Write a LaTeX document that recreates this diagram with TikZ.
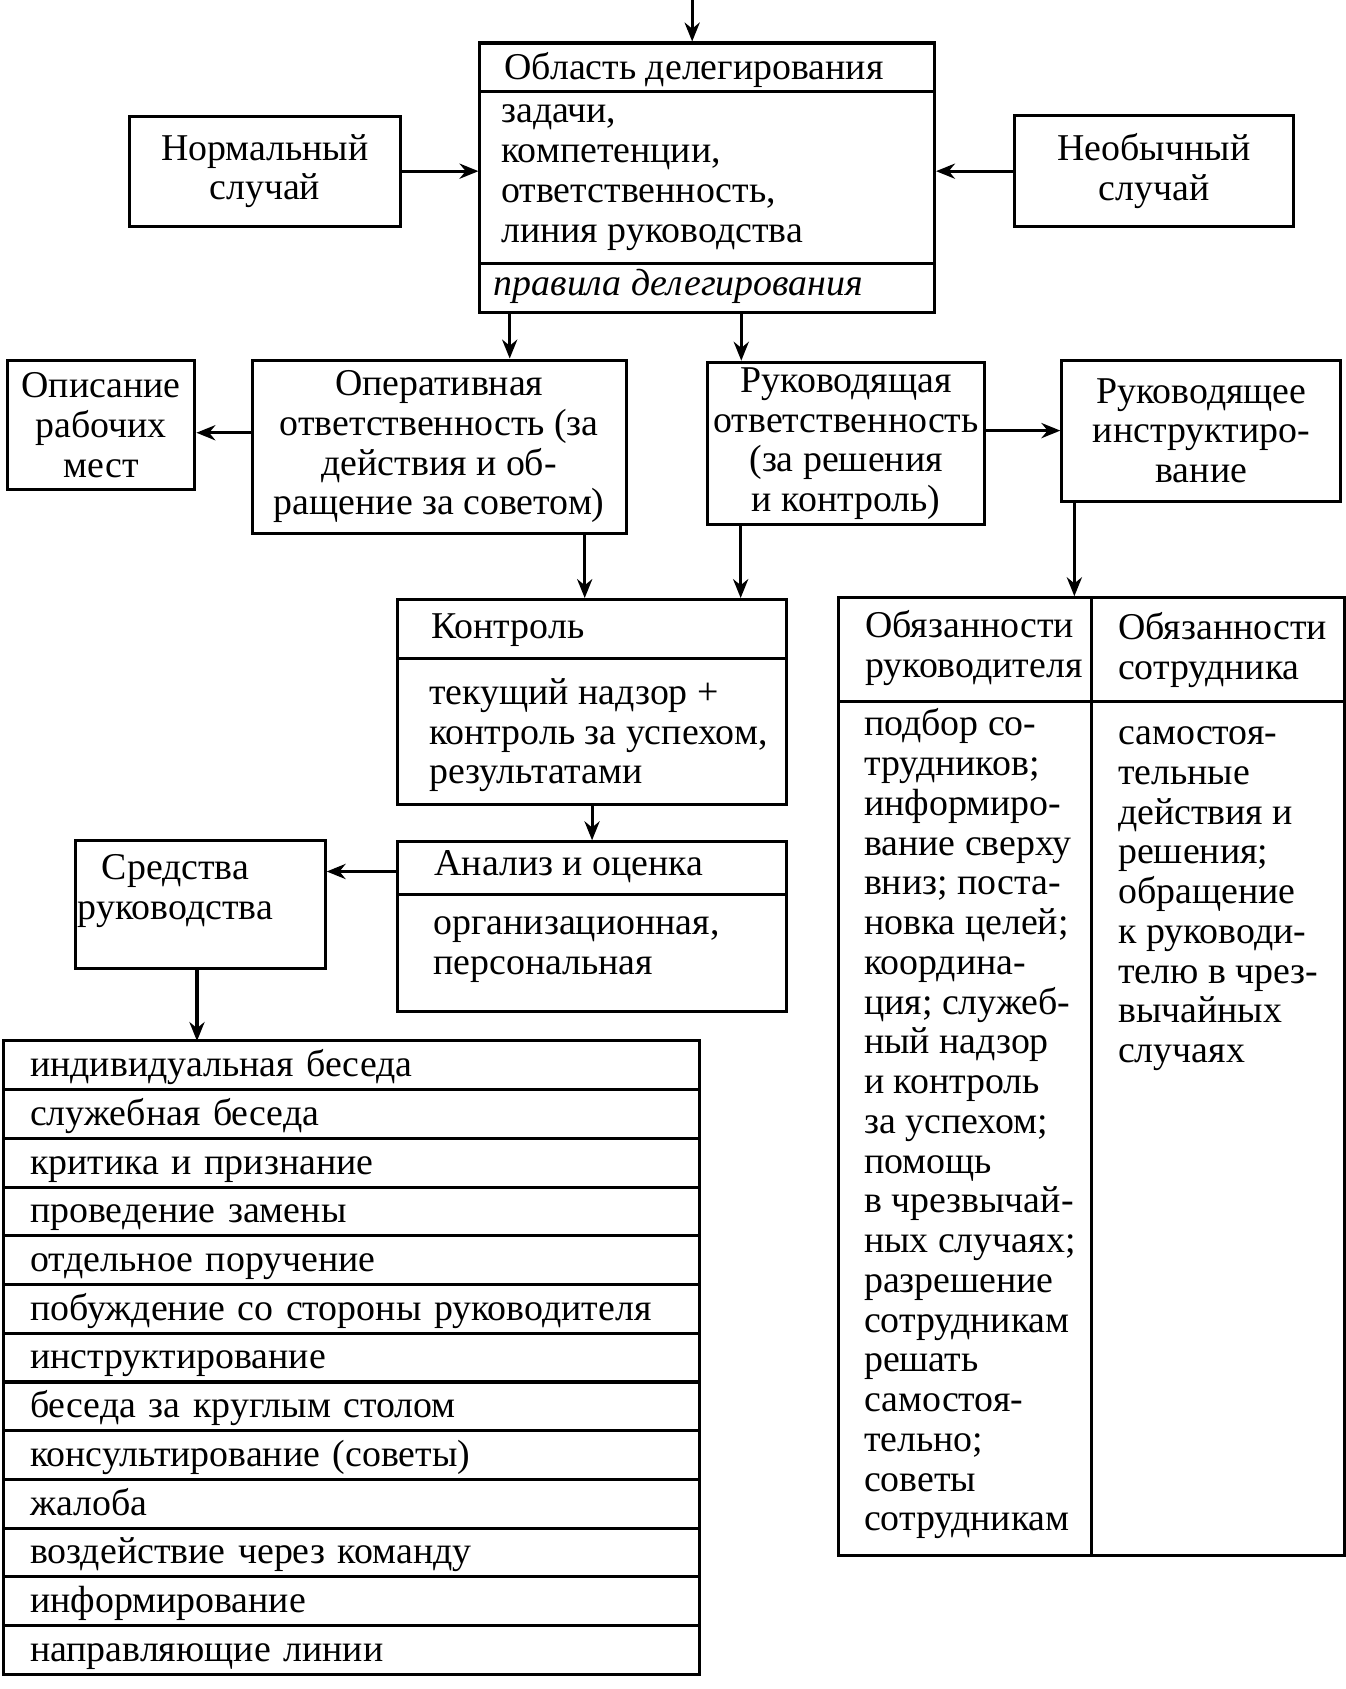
\documentclass[tikz,border=0pt]{standalone}
\usepackage{fontspec}
\setmainfont{Liberation Serif}
\usetikzlibrary{arrows.meta,positioning,calc}

\tikzset{
  box/.style={draw, line width=0.8pt, inner sep=0pt, align=center},
  arr/.style={-{Stealth[length=5pt,width=4pt]}, line width=0.8pt},
  lbl/.style={inner sep=0pt, align=left, anchor=west},
  listrow/.style={draw, line width=0.8pt, text width=5.96cm, inner xsep=0.25cm,
    inner ysep=0pt, outer sep=0pt, text height=7pt, text depth=1pt,
    minimum height=0.4523cm, align=left}
}

\begin{document}
\begin{tikzpicture}[x=0.01cm, y=-0.01cm, font=\fontsize{10}{10.5}\selectfont]

\useasboundingbox (0,0) rectangle (1250,1569);

% delegation area
\node[box, minimum width=4.22cm, minimum height=2.5cm] (oblast) at (657,165) {};
\draw[line width=0.8pt] ([yshift=-0.46cm]oblast.north west) -- ([yshift=-0.46cm]oblast.north east);
\draw[line width=0.8pt] ([yshift=0.47cm]oblast.south west) -- ([yshift=0.47cm]oblast.south east);
\node[lbl] (oblastT) at (468,65) {Область делегирования};
\node[lbl] (oblastC) at (465,165) {задачи,\\компетенции,\\ответственность,\\линия руководства};
\node[lbl] (oblastR) at (458,266) {\itshape правила делегирования};

\node[box, minimum width=2.52cm, minimum height=1.02cm] (norm) at (246,159) {Нормальный\\случай};
\node[box, minimum width=2.59cm, minimum height=1.03cm] (neob) at (1072,159) {Необычный\\случай};

% responsibilities
\node[box, minimum width=1.74cm, minimum height=1.2cm] (opis) at (94,395) {Описание\\рабочих\\мест};
\node[box, minimum width=3.47cm, minimum height=1.61cm] (oper) at (408,415) {Оперативная\\ответственность (за\\действия и об-\\ращение за советом)};
\node[box, minimum width=2.57cm, minimum height=1.51cm] (ruk) at (786,412) {Руководящая\\ответственность\\(за решения\\и контроль)};
\node[box, minimum width=2.59cm, minimum height=1.31cm] (instr) at (1116,400) {Руководящее\\инструктиро-\\вание};

% control
\node[box, minimum width=3.61cm, minimum height=1.9cm] (kontr) at (550,652) {};
\draw[line width=0.8pt] ([yshift=-0.56cm]kontr.north west) -- ([yshift=-0.56cm]kontr.north east);
\node[lbl] (kontrT) at (400,585) {Контроль};
\node[lbl] (kontrC) at (398,683) {текущий надзор +\\контроль за успехом,\\результатами};

\node[box, minimum width=3.61cm, minimum height=1.58cm] (anal) at (550,861) {};
\draw[line width=0.8pt] ([yshift=-0.5cm]anal.north west) -- ([yshift=-0.5cm]anal.north east);
\node[lbl] (analT) at (403,805) {Анализ и оценка};
\node[lbl] (analC) at (402,882) {организационная,\\персональная};

\node[box, minimum width=2.32cm, minimum height=1.19cm] (sred) at (186,840) {};
\node[inner sep=0pt, align=center] (sredT) at (163,828) {Средства\\руководства};

% means of management
\node[listrow, anchor=north west] (l1) at (3,967) {индивидуальная беседа};
\foreach \txt [count=\i from 2, remember=\i as \j (initially 1)] in
  {служебная беседа, критика и признание, проведение замены, отдельное поручение,
   побуждение со стороны руководителя, инструктирование, беседа за круглым столом,
   консультирование (советы), жалоба, воздействие через команду, информирование,
   направляющие линии}
  \node[listrow, below=0pt of l\j] (l\i) {\txt};

% duties table
\node[box, minimum width=4.69cm, minimum height=8.89cm] (obyaz) at (1014,1000) {};
\draw[line width=0.8pt] ([yshift=-0.98cm]obyaz.north west) -- ([yshift=-0.98cm]obyaz.north east);
\draw[line width=0.8pt] ([xshift=2.36cm]obyaz.north west) -- ([xshift=2.36cm]obyaz.south west);
\node[lbl] (rukH) at (803,602) {Обязанности\\руководителя};
\node[lbl] (sotrH) at (1038,604) {Обязанности\\сотрудника};
\node[lbl] (rukC) at (802,1044) {подбор со-\\трудников;\\информиро-\\вание сверху\\вниз; поста-\\новка целей;\\координа-\\ция; служеб-\\ный надзор\\и контроль\\за успехом;\\помощь\\в чрезвычай-\\ных случаях;\\разрешение\\сотрудникам\\решать\\самостоя-\\тельно;\\советы\\сотрудникам};
\node[lbl] (sotrC) at (1038,835) {самостоя-\\тельные\\действия и\\решения;\\обращение\\к руководи-\\телю в чрез-\\вычайных\\случаях};

% connectors
\coordinate (in) at (643,0);
\draw[arr] (in) -- (in |- oblast.north);
\draw[arr] (norm.east) -- (norm.east -| oblast.west);
\draw[arr] (neob.west) -- (neob.west -| oblast.east);
\draw[arr] ([xshift=0.29cm]oblast.south west) coordinate (a1) -- (a1 |- oper.north);
\draw[arr] ([xshift=2.44cm]oblast.south west) coordinate (a2) -- (a2 |- ruk.north);
\draw[arr] (oper.west |- 0,402) -- (opis.east |- 0,402);
\draw[arr] (instr.west -| ruk.east) -- (instr.west);
\draw[arr] ([xshift=3.1cm]oper.south west) coordinate (a3) -- (a3 |- kontr.north);
\draw[arr] ([xshift=0.32cm]ruk.south west) coordinate (a4) -- (a4 |- kontr.north);
\draw[arr] ([xshift=0.13cm]instr.south west) coordinate (a5) -- (a5 |- obyaz.north);
\draw[arr] (kontr.south) -- (anal.north);
\draw[arr] ([yshift=-0.29cm]anal.north west) coordinate (a6) -- (a6 -| sred.east);
\draw[arr] ([xshift=-0.03cm]sred.south) coordinate (a7) -- (a7 |- l1.north);

\end{tikzpicture}
\end{document}
